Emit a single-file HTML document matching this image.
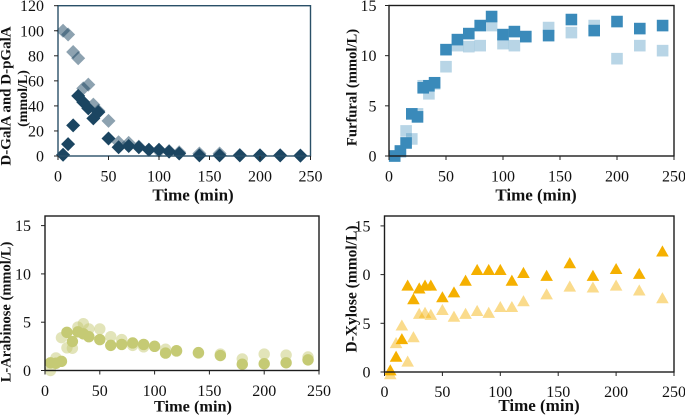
<!DOCTYPE html>
<html>
<head>
<meta charset="utf-8">
<style>
html,body{margin:0;padding:0;background:#fff;}
svg{display:block;filter:blur(0.35px);}
text{font-family:"Liberation Serif",serif;fill:#111;}
</style>
</head>
<body>
<svg id="figure" width="685" height="415" viewBox="0 0 685 415" xmlns="http://www.w3.org/2000/svg"></svg>
<script>
const times = [5,10,15,20,25,30,35,40,50,60,70,80,90,100,110,120,140,160,180,200,220,240];
const xTicks = [0,50,100,150,200,250];
const xTitle = 'Time (min)';

const galaTicks = [0,20,40,60,80,100,120];
const galaLight = [100,97,83,78,54,57,41,36,28,11,10.5,7.5,5,4,4,3,2,2,0.8,0.5,0.5,0.3];
const galaDark = [1,9.5,24.5,48,43,38,30,35,14,7,8,7,5,5,3.5,2,0.5,0.5,0.5,0.5,0.5,0.3];

const furfuralTicks = [0,5,10,15];
const furfuralLight = [0,0.4,2.5,1.7,4.2,7,6.2,7.2,8.9,11,10.9,11,13,11.2,11,11.9,12.8,12.3,13,9.7,11,10.5];
const furfuralDark = [0,0.5,1.3,4.2,3.9,6.8,7,7.3,10.6,11.6,12.2,13,13.9,12.1,12.4,11.9,12,13.6,12.5,13.4,12.7,13];

const arabinoseTicks = [0,5,10,15];
const arabinoseLight = [0,1.3,3.4,2.35,2.3,4.5,4.85,4.3,4.3,3.5,3.2,2.6,2.45,2.5,2.2,2,1.8,1.7,1.2,1.7,1.6,1.4];
const arabinoseDark = [0.8,0.75,0.95,3.95,3,4,3.8,3.5,3.2,2.6,2.7,2.85,2.7,2.5,1.8,2.05,1.85,1.55,0.65,0.7,0.8,1.1];

const xyloseTicks = [0,5,10,15];
const xyloseLight = [-0.2,3,4.8,1.1,3.6,6,6.1,5.9,6.4,5.7,6,6.3,6.1,6.7,6.7,7.3,8,8.8,8.7,8.9,8.4,7.6];
const xyloseDark = [0.2,1.6,3.4,8.9,7.5,8.6,8.9,8.9,7.7,8.2,9.4,10.5,10.5,10.5,9.4,10.2,9.9,11.2,9.9,10.6,10.1,12.4];

const NS = 'http://www.w3.org/2000/svg';
const svg = document.getElementById('figure');

function make(tag, attrs, parent) {
  const el = document.createElementNS(NS, tag);
  for (const k in attrs) el.setAttribute(k, attrs[k]);
  parent.appendChild(el);
  return el;
}

function marker(shape, cx, cy, s, fill, opacity, parent) {
  let el;
  if (shape === 'diamond') {
    el = make('polygon', {points:`${cx},${cy-s} ${cx+s},${cy} ${cx},${cy+s} ${cx-s},${cy}`, fill, opacity}, parent);
  } else if (shape === 'square') {
    el = make('rect', {x:cx-s, y:cy-s, width:2*s, height:2*s, fill, opacity}, parent);
  } else if (shape === 'circle') {
    el = make('circle', {cx, cy, r:s, fill, opacity}, parent);
  } else {
    el = make('polygon', {points:`${cx},${cy-s} ${cx+s+0.5},${cy+s-0.5} ${cx-s-0.5},${cy+s-0.5}`, fill, opacity}, parent);
  }
  return el;
}

function drawPanel(p) {
  const g = make('g', {}, svg);
  
  

  const sx = v => p.left + (v - 0) / 250 * (p.right - p.left);
  const sy = v => p.bottom - v * p.unit;

  const plot = make('g', {}, g);
  
  

  p.light.forEach((v, i) => {
    const m = marker(p.shape, sx(times[i]), sy(v), p.size, p.color, p.lightOpacity, plot);
    
    
  });
  p.dark.forEach((v, i) => {
    const m = marker(p.shape, sx(times[i]), sy(v), p.size, p.color, 1, plot);
    
    
  });

  const frame = make('rect', {x:p.left, y:p.top, width:p.right-p.left, height:p.bottom-p.top, fill:'none', stroke:p.frame, 'stroke-width':1.4}, g);
  
  

  xTicks.forEach(t => {
    const x = sx(t);
    const tick = make('line', {x1:x, x2:x, y1:p.bottom, y2:p.bottom+4, stroke:'#222', 'stroke-width':1}, g);
    
    
    const lab = make('text', {x, y:p.bottom+p.xLabelDy, 'font-size':16, 'text-anchor':'middle'}, g);
    lab.textContent = t;
    
    
  });

  p.yTicks.forEach(t => {
    const y = sy(t);
    const tick = make('line', {x1:p.left-4, x2:p.left, y1:y, y2:y, stroke:'#222', 'stroke-width':1}, g);
    
    
    const lab = make('text', {x:p.left-p.yLabelDx, y:y+5.5, 'font-size':16, 'text-anchor':'end'}, g);
    lab.textContent = t;
    
    
  });

  const xt = make('text', {x:p.xTitleX, y:p.xTitleY, 'font-size':p.xTitleSize, 'font-weight':'bold', 'text-anchor':'middle'}, g);
  xt.textContent = xTitle;
  
  

  if (p.titleMask) {
    const mask = make('rect', {x:p.titleMask.x, y:p.titleMask.y, width:p.titleMask.w, height:p.titleMask.h, fill:'#fff'}, g);
    
    
  }

  p.yTitles.forEach(line => {
    const yt = make('text', {transform:`translate(${line.x},${line.y}) rotate(-90)`, 'font-size':line.size, 'font-weight':'bold', 'text-anchor':'middle'}, g);
    yt.textContent = line.text;
    
    
  });
}

drawPanel({name:'galacturonic-acid', left:58, right:310.5, top:5.7, bottom:156, unit:150.3/120, yTicks:galaTicks,
  light:galaLight, dark:galaDark, shape:'diamond', size:7, color:'#1b4561', lightOpacity:0.5, frame:'#2a5068',
  xLabelDy:25.5, yLabelDx:14, xTitleX:193, xTitleY:200.5, xTitleSize:17,
  yTitles:[{text:'D-GalA and D-pGalA', x:10.5, y:96, size:15},{text:'(mmol/L)', x:27, y:98.5, size:14}]});

drawPanel({name:'furfural', left:389, right:674, top:5.5, bottom:156, unit:150.5/15, yTicks:furfuralTicks,
  light:furfuralLight, dark:furfuralDark, shape:'square', size:5.8, color:'#3a8aba', lightOpacity:0.36, frame:'#1c1c1c',
  xLabelDy:25.5, yLabelDx:12.5, xTitleX:536, xTitleY:200.5, xTitleSize:17,
  yTitles:[{text:'Furfural (mmol/L)', x:356.5, y:87.5, size:14.6}]});

drawPanel({name:'arabinose', left:45, right:319, top:216, bottom:370.5, unit:48.3/5, yTicks:arabinoseTicks,
  light:arabinoseLight, dark:arabinoseDark, shape:'circle', size:5.7, color:'#c5ca74', lightOpacity:0.5, frame:'#1c1c1c',
  xLabelDy:25.5, yLabelDx:14, xTitleX:193, xTitleY:411.5, xTitleSize:16.3,
  yTitles:[{text:'L-Arabinose (mmol/L)', x:10.5, y:312, size:14.5}]});

drawPanel({name:'xylose', left:384.5, right:674, top:216, bottom:372, unit:48.7/5, yTicks:xyloseTicks,
  light:xyloseLight, dark:xyloseDark, shape:'triangle', size:5.8, color:'#f5b000', lightOpacity:0.45, frame:'#1c1c1c',
  xLabelDy:25, yLabelDx:14, xTitleX:539, xTitleY:411, xTitleSize:17,
  titleMask:{x:345, y:265, w:17, h:20},
  yTitles:[{text:'D-Xylose (mmol/L)', x:356.5, y:289, size:15.5}]});
</script>
</body>
</html>
